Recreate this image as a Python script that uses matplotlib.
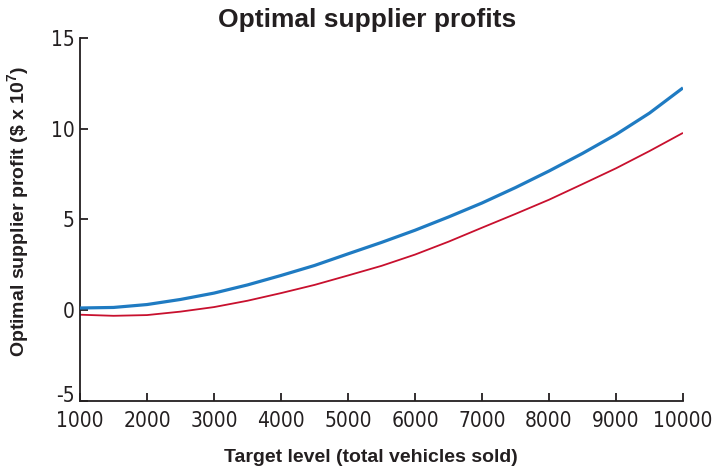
import matplotlib
matplotlib.use("Agg")
import matplotlib.pyplot as plt
from matplotlib import font_manager
from matplotlib.transforms import ScaledTranslation

# Data
target = [1000, 1500, 2000, 2500, 3000, 3500, 4000, 4500, 5000, 5500,
          6000, 6500, 7000, 7500, 8000, 8500, 9000, 9500, 10000]
profit_blue = [0.12, 0.15, 0.31, 0.59, 0.94, 1.39, 1.91, 2.46, 3.10, 3.73,
               4.40, 5.13, 5.90, 6.75, 7.66, 8.63, 9.67, 10.85, 12.24]
profit_red = [-0.25, -0.31, -0.27, -0.08, 0.17, 0.52, 0.94, 1.39, 1.91, 2.44,
              3.06, 3.77, 4.54, 5.30, 6.08, 6.94, 7.81, 8.76, 9.76]

x_ticks = [1000, 2000, 3000, 4000, 5000, 6000, 7000, 8000, 9000, 10000]
y_ticks = [-5, 0, 5, 10, 15]

title = "Optimal supplier profits"
xlabel = "Target level (total vehicles sold)"
ylabel = r"Optimal supplier profit (\$ x 10$^{7}$)"

plt.rcParams['mathtext.fontset'] = 'custom'
plt.rcParams['mathtext.rm'] = 'Liberation Sans:bold'
plt.rcParams['mathtext.it'] = 'Liberation Sans:bold'
plt.rcParams['mathtext.bf'] = 'Liberation Sans:bold'

# pick a condensed font for the tick labels if available
names = {f.name for f in font_manager.fontManager.ttflist}
if 'Liberation Sans Narrow' in names:
    tick_fp = dict(family='Liberation Sans Narrow', size=17)
elif 'DejaVu Sans Condensed' in names:
    tick_fp = dict(family='DejaVu Sans Condensed', size=15.5)
else:
    tick_fp = dict(family='DejaVu Sans', stretch='condensed', size=15)

fig = plt.figure(figsize=(7.13, 4.68), dpi=100)
ax = fig.add_axes([80 / 713, 1 - 401 / 468, 603 / 713, (401 - 37.7) / 468])

ax.plot(target, profit_red, color="#c8102e", lw=1.3, solid_capstyle="butt", zorder=2)
ax.plot(target, profit_blue, color="#1f7bc2", lw=2.3, solid_capstyle="butt", zorder=3)

ax.set_xlim(1000, 10000)
ax.set_ylim(-5, 15)
ax.set_xticks(x_ticks)
ax.set_yticks(y_ticks)
ax.set_xticklabels([str(v) for v in x_ticks], **tick_fp)
ax.set_yticklabels([str(v) for v in y_ticks], **tick_fp)

for s in ["top", "right"]:
    ax.spines[s].set_visible(False)
for s in ["left", "bottom"]:
    ax.spines[s].set_linewidth(1.3)
    ax.spines[s].set_color("#231f20")

ax.tick_params(axis="both", direction="in", length=6, width=1.3, color="#231f20",
               labelcolor="#231f20")
ax.tick_params(axis="x", pad=7)
ax.tick_params(axis="y", pad=4)

# the "-5" label sits a little above its tick in the reference
ylabs = ax.get_yticklabels()
ylabs[0].set_transform(ylabs[0].get_transform() +
                       ScaledTranslation(0, 7 / 100, fig.dpi_scale_trans))

lab_font = ['Liberation Sans', 'DejaVu Sans']
fig.text(367 / 713, 1 - 20 / 468, title, ha="center", va="center",
         fontsize=19, fontweight="bold", family=lab_font, color="#231f20")
fig.text(371 / 713, 1 - 458 / 468, xlabel, ha="center", va="center",
         fontsize=14, fontweight="bold", family=lab_font, color="#231f20")
fig.text(18 / 713, 1 - 212 / 468, ylabel, ha="center", va="center", rotation=90,
         fontsize=14, fontweight="bold", family=lab_font, color="#231f20")

fig.savefig("out.png", dpi=100)
